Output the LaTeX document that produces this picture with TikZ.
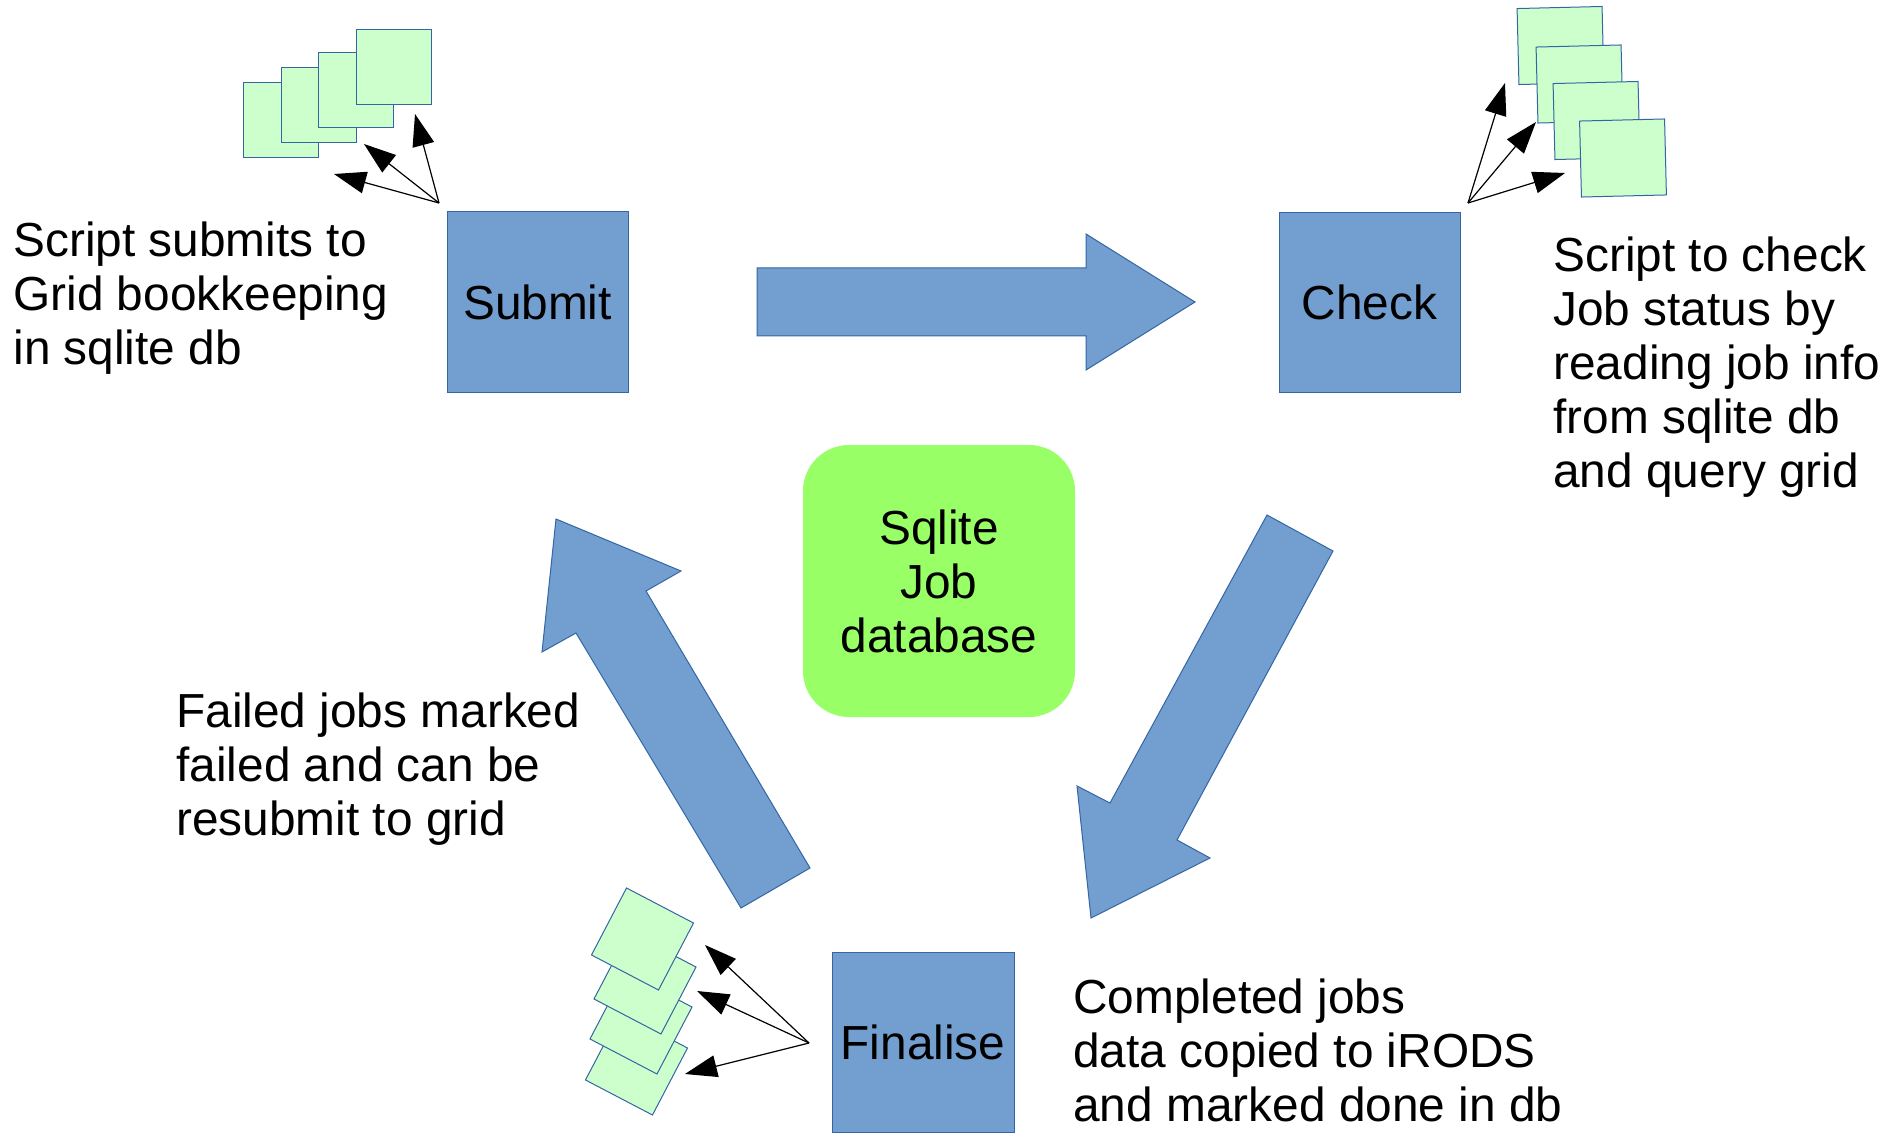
\documentclass[tikz,border=0pt]{standalone}
\usepackage{fontspec}
\setmainfont{Liberation Sans}
\usetikzlibrary{arrows.meta}
\definecolor{boxblue}{HTML}{729FCF}
\definecolor{edgeblue}{HTML}{3465A4}
\definecolor{dbgreen}{HTML}{99FF66}
\definecolor{paper}{HTML}{CCFFCC}
\newcommand{\lblfont}{\fontsize{23.9pt}{27pt}\selectfont}
\begin{document}
\begin{tikzpicture}[x=0.5pt,y=-0.5pt,
  stepbox/.style={draw=edgeblue, fill=boxblue, line width=0.5pt, minimum width=90.5pt, minimum height=90pt, inner sep=0pt, font=\lblfont},
  dbbox/.style={fill=dbgreen, rounded corners=23pt, minimum width=136pt, minimum height=136pt, inner sep=0pt, font=\lblfont, align=center},
  sheet/.style={draw=edgeblue, fill=paper, line width=0.5pt, inner sep=0pt},
  bigarrow/.style={draw=edgeblue, fill=boxblue, line width=0.5pt, line join=miter},
  thinarrow/.style={draw=black, line width=0.6pt, -{Triangle[length=16pt,width=11pt]}},
  txt/.style={font=\lblfont, inner sep=0pt, anchor=base west}]

\useasboundingbox (0,0) rectangle (1896,1134);

% step boxes
\node[stepbox] (submit) at (537.5,302) {Submit};
\node[stepbox] (check) at (1369.5,302.5) {Check};
\node[stepbox, minimum width=91pt] (final) at (923,1042.5) {Finalise};
\node[dbbox] (db) at (939,581) {Sqlite\\Job\\database};

% big block arrows
\draw[bigarrow] (757,268) -- (1086,268) -- (1086,234) -- (1195,302) -- (1086,370) -- (1086,336) -- (757,336) -- cycle;
\draw[bigarrow] (1267,515) -- (1333,551) -- (1177,840) -- (1210,858) -- (1091,918) -- (1077,786) -- (1110,803) -- cycle;
\draw[bigarrow] (556,519) -- (681,571) -- (646,591) -- (810,868) -- (741,908) -- (576,633) -- (542,652) -- cycle;

% top-left sheets
\node[sheet, minimum width=37.5pt, minimum height=37.5pt] (tl1) at (280.5,120.5) {};
\node[sheet, minimum width=37.5pt, minimum height=37.5pt] (tl2) at (318.5,105.5) {};
\node[sheet, minimum width=37.5pt, minimum height=37.5pt] (tl3) at (356,90) {};
\node[sheet, minimum width=37.5pt, minimum height=37.5pt] (tl4) at (394,67) {};

% top-right sheets
\node[sheet, minimum width=42.5pt, minimum height=38pt, rotate=1.4] (tr1) at (1560.5,45.5) {};
\node[sheet, minimum width=42.5pt, minimum height=38pt, rotate=1.4] (tr2) at (1579.5,84) {};
\node[sheet, minimum width=42.5pt, minimum height=38pt, rotate=1.4] (tr3) at (1596.5,120.5) {};
\node[sheet, minimum width=42.5pt, minimum height=38pt, rotate=1.4] (tr4) at (1623,158) {};

% bottom-left sheets
\node[sheet, minimum width=37.8pt, minimum height=37.8pt, rotate=-27.6] (bl4) at (636.5,1064) {};
\node[sheet, minimum width=37.8pt, minimum height=37.8pt, rotate=-27.6] (bl3) at (641,1023) {};
\node[sheet, minimum width=37.8pt, minimum height=37.8pt, rotate=-27.6] (bl2) at (645,983) {};
\node[sheet, minimum width=37.8pt, minimum height=37.8pt, rotate=-27.6] (bl1) at (642.5,939) {};

% thin arrows
\coordinate (tlo) at (439,203);
\coordinate (tla) at (415,114);
\coordinate (tlb) at (364,144);
\coordinate (tlc) at (334,174);
\draw[thinarrow] (tlo) -- (tla);
\draw[thinarrow] (tlo) -- (tlb);
\draw[thinarrow] (tlo) -- (tlc);

\coordinate (tro) at (1468,203);
\coordinate (tra) at (1505,83);
\coordinate (trb) at (1536,122);
\coordinate (trc) at (1565,173);
\draw[thinarrow] (tro) -- (tra);
\draw[thinarrow] (tro) -- (trb);
\draw[thinarrow] (tro) -- (trc);

\coordinate (blo) at (809,1043);
\coordinate (bla) at (705,945);
\coordinate (blb) at (697,991);
\coordinate (blc) at (685,1074);
\draw[thinarrow] (blo) -- (bla);
\draw[thinarrow] (blo) -- (blb);
\draw[thinarrow] (blo) -- (blc);

% descriptive texts
\node[txt] (tsubmit) at (13,257) {\parbox[t]{320pt}{\raggedright Script submits to\\Grid bookkeeping\\in sqlite db}};
\node[txt] (tcheck) at (1553,272) {\parbox[t]{320pt}{\raggedright Script to check\\Job status by\\reading job info\\from sqlite db\\and query grid}};
\node[txt] (tfailed) at (176,727) {\parbox[t]{320pt}{\raggedright Failed jobs marked\\failed and can be\\resubmit to grid}};
\node[txt] (tdone) at (1073,1013) {\parbox[t]{320pt}{\raggedright Completed jobs\\data copied to iRODS\\and marked done in db}};
\end{tikzpicture}
\end{document}
